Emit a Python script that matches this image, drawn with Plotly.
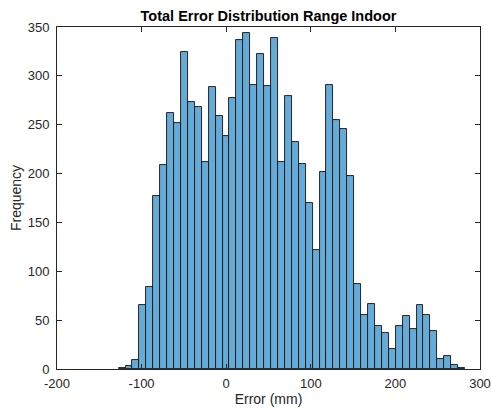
import plotly.graph_objects as go

# Histogram of total range error (indoor), 50 equal-width bins
bin_start = -127.2      # left edge of the first bin (mm)
bin_width = 8.19        # bin width (mm)
counts = [1, 3, 9, 66, 84, 177, 209, 262, 252, 324,
          273, 268, 212, 289, 259, 238, 277, 337, 344, 291,
          322, 290, 339, 212, 279, 232, 210, 170, 122, 202,
          291, 255, 246, 198, 87, 55, 67, 44, 37, 20,
          44, 54, 41, 65, 55, 39, 10, 13, 4, 1]

x_ticks = [-200, -100, 0, 100, 200, 300]
y_ticks = [0, 50, 100, 150, 200, 250, 300, 350]

centers = [bin_start + bin_width * (i + 0.5) for i in range(len(counts))]

FONT = "Liberation Sans, Arial, Helvetica, sans-serif"
AX = "rgb(38,38,38)"

fig = go.Figure(
    go.Bar(
        x=centers,
        y=counts,
        width=bin_width,
        marker=dict(color="rgb(102,170,215)",
                    line=dict(color="rgb(20,20,20)", width=0.9)),
        hoverinfo="x+y",
    )
)

axis_common = dict(
    showgrid=False,
    zeroline=False,
    showline=True,
    linecolor=AX,
    linewidth=1,
    mirror="ticks",
    ticks="inside",
    ticklen=5,
    tickwidth=1,
    tickcolor=AX,
    tickfont=dict(family=FONT, size=13, color=AX),
)

fig.update_layout(
    width=491,
    height=410,
    margin=dict(l=57, r=11, t=27, b=41, autoexpand=False),
    paper_bgcolor="white",
    plot_bgcolor="white",
    bargap=0,
    showlegend=False,
    title=dict(
        text="<b>Total Error Distribution Range Indoor</b>",
        font=dict(family=FONT, size=14.5, color="black"),
        x=0.5, xref="paper", xanchor="center",
        y=1 - 15.5 / 410, yref="container", yanchor="middle",
    ),
    xaxis=dict(
        axis_common,
        range=[-200, 300],
        tickvals=x_ticks,
        ticktext=[str(v) for v in x_ticks],
        ticklabelstandoff=2,
        title=dict(text="Error (mm)", font=dict(family=FONT, size=14, color=AX),
                   standoff=4),
    ),
    yaxis=dict(
        axis_common,
        range=[0, 350],
        tickvals=y_ticks,
        ticktext=[str(v) for v in y_ticks],
        ticklabelstandoff=4,
        title=dict(text="Frequency", font=dict(family=FONT, size=14, color=AX),
                   standoff=2),
    ),
)

fig.write_html("out.html")
